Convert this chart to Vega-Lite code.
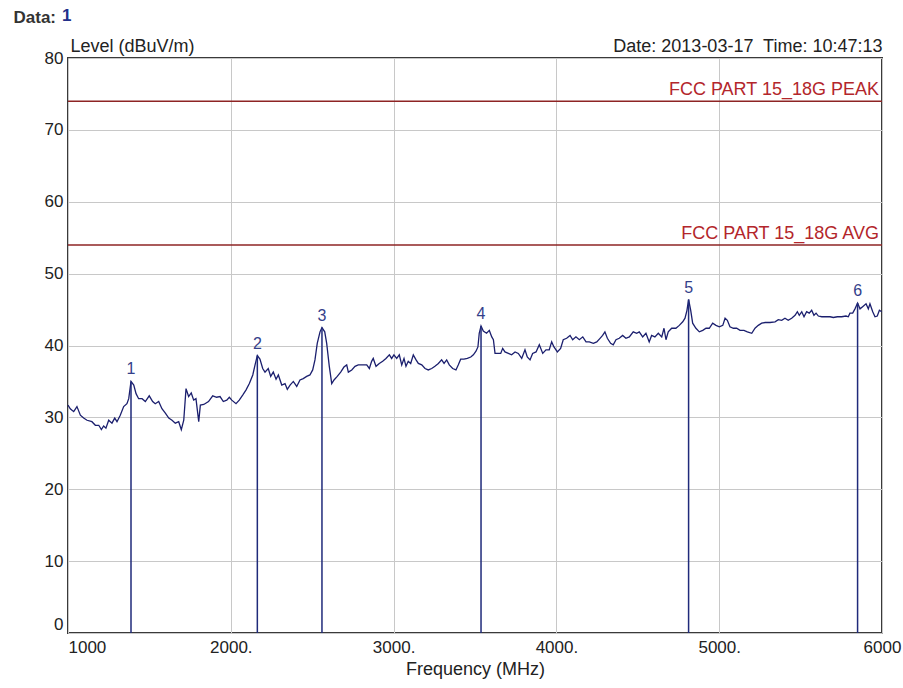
{
  "$schema": "https://vega.github.io/schema/vega-lite/v6.json",
  "width": 814,
  "height": 575,
  "autosize": {"type": "none"},
  "padding": {"left": 68, "top": 58, "right": 21, "bottom": 55},
  "background": "white",
  "config": {
    "font": "Liberation Sans",
    "view": {"stroke": "#3a3a3a", "strokeWidth": 2},
    "axis": {"labelColor": "#222222", "titleColor": "#222222", "titleFontWeight": "normal"}
  },
  "title": {"text": "1", "anchor": "start", "frame": "group", "color": "#22308a", "fontSize": 17, "fontWeight": "bold", "dx": -6, "dy": 21},
  "datasets": {
    "trace": [
      {"f":1000,"v":31.7},{"f":1014,"v":31.2},{"f":1035,"v":30.8},{"f":1055,"v":31.5},{"f":1076,"v":30.3},{"f":1096,"v":29.9},{"f":1117,"v":29.6},{"f":1147,"v":29.4},{"f":1168,"v":28.9},{"f":1189,"v":28.9},{"f":1205,"v":28.3},{"f":1219,"v":28.8},{"f":1233,"v":28.5},{"f":1250,"v":29.6},{"f":1270,"v":29.2},{"f":1287,"v":29.9},{"f":1301,"v":29.4},{"f":1321,"v":30.3},{"f":1342,"v":31.5},{"f":1362,"v":31.9},{"f":1373,"v":32.6},{"f":1387,"v":35.0},{"f":1404,"v":34.5},{"f":1418,"v":33.3},{"f":1434,"v":32.6},{"f":1455,"v":32.6},{"f":1475,"v":32.2},{"f":1499,"v":33.0},{"f":1520,"v":32.2},{"f":1536,"v":31.9},{"f":1557,"v":32.2},{"f":1577,"v":31.2},{"f":1598,"v":30.6},{"f":1619,"v":29.9},{"f":1639,"v":29.6},{"f":1659,"v":29.2},{"f":1680,"v":29.4},{"f":1696,"v":28.3},{"f":1711,"v":29.6},{"f":1725,"v":34.0},{"f":1741,"v":32.9},{"f":1757,"v":33.4},{"f":1772,"v":32.4},{"f":1786,"v":32.6},{"f":1803,"v":29.4},{"f":1813,"v":31.7},{"f":1834,"v":31.8},{"f":1863,"v":32.2},{"f":1889,"v":33.0},{"f":1913,"v":32.8},{"f":1934,"v":32.9},{"f":1954,"v":32.2},{"f":1975,"v":32.4},{"f":1991,"v":32.8},{"f":2006,"v":32.4},{"f":2032,"v":31.9},{"f":2052,"v":32.4},{"f":2073,"v":33.1},{"f":2093,"v":33.8},{"f":2114,"v":34.7},{"f":2135,"v":35.9},{"f":2149,"v":37.3},{"f":2163,"v":38.6},{"f":2179,"v":38.1},{"f":2196,"v":36.8},{"f":2210,"v":36.3},{"f":2230,"v":36.8},{"f":2245,"v":35.7},{"f":2261,"v":36.3},{"f":2278,"v":35.3},{"f":2292,"v":35.9},{"f":2313,"v":34.5},{"f":2333,"v":34.7},{"f":2347,"v":33.9},{"f":2364,"v":34.5},{"f":2384,"v":35.0},{"f":2405,"v":34.3},{"f":2425,"v":35.2},{"f":2445,"v":35.4},{"f":2466,"v":35.7},{"f":2486,"v":35.9},{"f":2503,"v":36.6},{"f":2517,"v":38.0},{"f":2531,"v":40.3},{"f":2548,"v":41.9},{"f":2560,"v":42.5},{"f":2577,"v":41.9},{"f":2589,"v":40.3},{"f":2605,"v":37.1},{"f":2620,"v":34.7},{"f":2634,"v":35.2},{"f":2654,"v":35.7},{"f":2675,"v":36.3},{"f":2695,"v":37.0},{"f":2712,"v":37.3},{"f":2722,"v":36.3},{"f":2743,"v":36.6},{"f":2763,"v":37.1},{"f":2783,"v":37.3},{"f":2810,"v":37.3},{"f":2835,"v":37.3},{"f":2851,"v":36.8},{"f":2865,"v":37.8},{"f":2875,"v":38.2},{"f":2892,"v":37.1},{"f":2912,"v":37.5},{"f":2933,"v":37.8},{"f":2953,"v":38.2},{"f":2974,"v":38.7},{"f":2988,"v":38.2},{"f":3002,"v":38.7},{"f":3019,"v":38.2},{"f":3035,"v":38.7},{"f":3050,"v":37.3},{"f":3064,"v":38.2},{"f":3076,"v":37.1},{"f":3090,"v":37.8},{"f":3105,"v":37.5},{"f":3121,"v":38.7},{"f":3138,"v":38.0},{"f":3152,"v":37.5},{"f":3173,"v":37.3},{"f":3193,"v":36.8},{"f":3213,"v":36.6},{"f":3234,"v":36.8},{"f":3254,"v":37.1},{"f":3275,"v":37.5},{"f":3295,"v":38.0},{"f":3310,"v":37.5},{"f":3326,"v":38.0},{"f":3342,"v":37.3},{"f":3363,"v":36.8},{"f":3383,"v":36.6},{"f":3397,"v":37.3},{"f":3412,"v":38.1},{"f":3432,"v":38.1},{"f":3453,"v":38.2},{"f":3474,"v":38.4},{"f":3490,"v":38.7},{"f":3506,"v":39.2},{"f":3518,"v":39.8},{"f":3526,"v":41.7},{"f":3537,"v":42.7},{"f":3551,"v":42.0},{"f":3571,"v":41.7},{"f":3588,"v":42.1},{"f":3603,"v":41.2},{"f":3613,"v":40.8},{"f":3623,"v":38.9},{"f":3643,"v":38.9},{"f":3658,"v":38.9},{"f":3670,"v":39.6},{"f":3684,"v":39.1},{"f":3705,"v":38.9},{"f":3725,"v":38.7},{"f":3746,"v":39.1},{"f":3766,"v":38.9},{"f":3787,"v":38.2},{"f":3807,"v":39.4},{"f":3821,"v":38.4},{"f":3838,"v":38.0},{"f":3854,"v":38.9},{"f":3875,"v":39.1},{"f":3895,"v":40.1},{"f":3916,"v":38.9},{"f":3936,"v":39.4},{"f":3956,"v":39.4},{"f":3971,"v":40.5},{"f":3985,"v":39.8},{"f":4006,"v":39.1},{"f":4026,"v":39.6},{"f":4042,"v":40.8},{"f":4063,"v":41.0},{"f":4084,"v":41.4},{"f":4100,"v":40.8},{"f":4120,"v":41.2},{"f":4141,"v":40.8},{"f":4162,"v":41.2},{"f":4182,"v":40.5},{"f":4202,"v":40.5},{"f":4227,"v":40.3},{"f":4248,"v":40.5},{"f":4268,"v":41.0},{"f":4284,"v":41.4},{"f":4298,"v":41.9},{"f":4313,"v":41.0},{"f":4333,"v":40.3},{"f":4349,"v":40.1},{"f":4366,"v":40.8},{"f":4386,"v":41.0},{"f":4407,"v":41.4},{"f":4427,"v":41.0},{"f":4448,"v":41.2},{"f":4472,"v":41.9},{"f":4493,"v":41.7},{"f":4509,"v":41.9},{"f":4530,"v":41.2},{"f":4550,"v":41.7},{"f":4570,"v":40.5},{"f":4585,"v":41.4},{"f":4605,"v":41.2},{"f":4626,"v":41.7},{"f":4647,"v":41.2},{"f":4661,"v":42.4},{"f":4673,"v":40.8},{"f":4687,"v":41.9},{"f":4708,"v":42.4},{"f":4734,"v":42.4},{"f":4755,"v":42.8},{"f":4776,"v":43.3},{"f":4790,"v":43.8},{"f":4802,"v":44.9},{"f":4812,"v":46.4},{"f":4825,"v":44.9},{"f":4837,"v":43.1},{"f":4857,"v":42.4},{"f":4878,"v":41.9},{"f":4899,"v":42.1},{"f":4919,"v":42.4},{"f":4939,"v":42.4},{"f":4960,"v":43.1},{"f":4980,"v":42.8},{"f":5001,"v":42.6},{"f":5022,"v":42.8},{"f":5036,"v":43.8},{"f":5050,"v":43.5},{"f":5066,"v":42.6},{"f":5087,"v":42.4},{"f":5107,"v":42.4},{"f":5128,"v":42.1},{"f":5152,"v":42.1},{"f":5173,"v":41.9},{"f":5200,"v":41.7},{"f":5220,"v":42.4},{"f":5240,"v":42.8},{"f":5261,"v":43.1},{"f":5282,"v":43.2},{"f":5312,"v":43.2},{"f":5343,"v":43.3},{"f":5363,"v":43.6},{"f":5384,"v":43.5},{"f":5404,"v":43.8},{"f":5424,"v":43.5},{"f":5445,"v":43.8},{"f":5466,"v":44.2},{"f":5480,"v":44.7},{"f":5492,"v":44.2},{"f":5507,"v":44.7},{"f":5521,"v":44.0},{"f":5537,"v":44.7},{"f":5553,"v":44.5},{"f":5568,"v":44.9},{"f":5582,"v":44.2},{"f":5595,"v":44.5},{"f":5609,"v":44.1},{"f":5630,"v":44.0},{"f":5660,"v":44.0},{"f":5681,"v":44.0},{"f":5701,"v":43.9},{"f":5726,"v":44.0},{"f":5752,"v":44.0},{"f":5779,"v":44.1},{"f":5793,"v":44.0},{"f":5803,"v":44.5},{"f":5820,"v":44.5},{"f":5834,"v":45.1},{"f":5850,"v":45.9},{"f":5865,"v":45.1},{"f":5881,"v":45.4},{"f":5902,"v":45.8},{"f":5916,"v":45.1},{"f":5926,"v":45.8},{"f":5943,"v":44.7},{"f":5957,"v":44.0},{"f":5971,"v":44.1},{"f":5984,"v":44.9},{"f":5998,"v":44.7}
    ],
    "markers": [
      {"n":"1","f":1387,"v":35.0},
      {"n":"2","f":2163,"v":38.6},
      {"n":"3","f":2560,"v":42.5},
      {"n":"4","f":3537,"v":42.7},
      {"n":"5","f":4812,"v":46.4},
      {"n":"6","f":5850,"v":45.9}
    ],
    "limits": [
      {"name":"FCC PART 15_18G PEAK","lv":74},
      {"name":"FCC PART 15_18G AVG","lv":54}
    ]
  },
  "layer": [
    {
      "data": {"name": "trace"},
      "mark": {"type": "line", "color": "#1b1f6e", "strokeWidth": 1.3},
      "encoding": {
        "x": {
          "field": "f", "type": "quantitative",
          "scale": {"domain": [1000, 6000], "nice": false, "zero": false},
          "axis": {
            "orient": "bottom",
            "values": [1000, 2000, 3000, 4000, 5000, 6000],
            "format": "d",
            "labelExpr": "datum.value == 1000 || datum.value == 6000 ? datum.label : datum.label + '.'",
            "labelFlush": false,
            "labelAlign": {"condition": {"test": "datum.value == 1000", "value": "left"}, "value": "center"},
            "grid": true, "gridColor": "#c8c8c8", "gridWidth": 1,
            "domain": false, "ticks": false,
            "labelPadding": 6, "labelFontSize": 17,
            "title": "Frequency (MHz)", "titleFontSize": 18, "titlePadding": 5
          }
        },
        "y": {
          "field": "v", "type": "quantitative",
          "scale": {"domain": [0, 80], "nice": false},
          "axis": {
            "orient": "left",
            "values": [0, 10, 20, 30, 40, 50, 60, 70, 80],
            "labelBaseline": {"condition": {"test": "datum.value == 0", "value": "bottom"}, "value": "middle"},
            "grid": true, "gridColor": "#c8c8c8", "gridWidth": 1,
            "domain": false, "ticks": false,
            "labelPadding": 5, "labelFontSize": 17,
            "title": "Level (dBuV/m)", "titleFontSize": 18, "titleAngle": 0,
            "titleX": 2, "titleY": -7, "titleAlign": "left", "titleBaseline": "alphabetic"
          }
        }
      }
    },
    {
      "data": {"name": "limits"},
      "mark": {"type": "rule", "color": "#8e2424", "strokeWidth": 1.5},
      "encoding": {
        "y": {"field": "lv", "type": "quantitative", "axis": null}
      }
    },
    {
      "data": {"name": "limits"},
      "mark": {"type": "text", "align": "right", "baseline": "alphabetic", "dx": -3, "dy": -6, "fontSize": 18, "color": "#b3262b"},
      "encoding": {
        "x": {"datum": 6000, "type": "quantitative", "axis": null},
        "y": {"field": "lv", "type": "quantitative", "axis": null},
        "text": {"field": "name"}
      }
    },
    {
      "data": {"name": "markers"},
      "mark": {"type": "rule", "color": "#1f2a7a", "strokeWidth": 1.5},
      "encoding": {
        "x": {"field": "f", "type": "quantitative", "axis": null},
        "y": {"field": "v", "type": "quantitative", "axis": null},
        "y2": {"datum": 0}
      }
    },
    {
      "data": {"name": "markers"},
      "mark": {"type": "text", "baseline": "alphabetic", "dy": -7, "fontSize": 16, "color": "#34408a"},
      "encoding": {
        "x": {
          "field": "f", "type": "quantitative",
          "axis": {
            "orient": "top", "labels": false, "ticks": false, "domain": false, "grid": false,
            "title": "Date: 2013-03-17\u00a0 Time: 10:47:13", "titleFontSize": 18,
            "titleX": 814, "titleY": -7, "titleAlign": "right", "titleBaseline": "alphabetic"
          }
        },
        "y": {
          "field": "v", "type": "quantitative",
          "axis": {
            "orient": "right", "labels": false, "ticks": false, "domain": false, "grid": false,
            "title": "Data:", "titleFontSize": 17, "titleFontWeight": "bold", "titleColor": "#333333",
            "titleAngle": 0, "titleX": -869, "titleY": -36, "titleAlign": "left", "titleBaseline": "alphabetic"
          }
        },
        "text": {"field": "n"}
      }
    }
  ],
  "resolve": {"axis": {"x": "independent", "y": "independent"}}
}
